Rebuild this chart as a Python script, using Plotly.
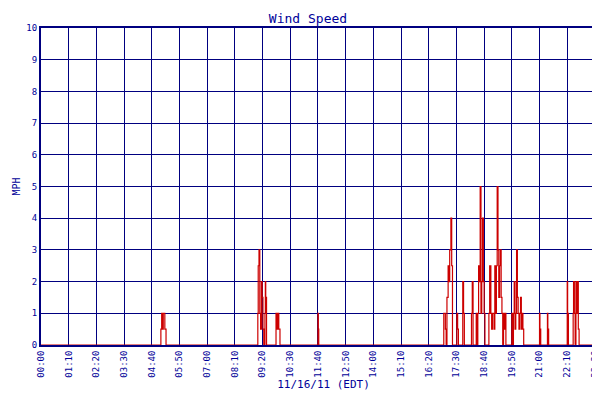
import plotly.graph_objects as go

# minutes since midnight, wind speed (mph); step series
minutes = [0, 300, 303, 305, 307, 309, 311, 313, 316,
           547, 548, 549, 551, 553, 555, 557, 559, 561, 563, 566, 567, 568, 570,
           594, 596, 599, 601, 604,
           700, 701, 702,
           1017, 1018, 1020, 1022, 1024, 1026, 1029, 1031, 1033, 1036, 1038, 1040, 1043,
           1051, 1053, 1055, 1066, 1068, 1070, 1088, 1090, 1092,
           1100, 1102, 1104, 1106, 1108, 1110, 1112, 1114, 1116, 1118, 1120, 1122, 1124,
           1132, 1134, 1135, 1137, 1139, 1141, 1143, 1145, 1147, 1149, 1151, 1153, 1155, 1157,
           1159, 1161, 1163, 1165, 1167, 1169, 1171, 1173, 1175,
           1190, 1192, 1194, 1196, 1198, 1200, 1202, 1204, 1206, 1208, 1210, 1212, 1214, 1216, 1218, 1220,
           1260, 1261, 1263, 1280, 1281, 1283,
           1330, 1331, 1333, 1345, 1346, 1348, 1350, 1352, 1354, 1356, 1358, 1360,
           1405, 1407, 1409, 1411, 1413, 1428]
speeds = [0, 0, 0.5, 1, 0.5, 1, 1, 0.5, 0,
          0, 1, 2.5, 3, 1, 0.5, 2, 1.5, 0.5, 0, 1, 2, 1.5, 0,
          1, 0.5, 1, 0.5, 0,
          1, 0.5, 0,
          0, 1, 1, 0.5, 0, 1.5, 2.5, 2, 3, 4, 2.5, 0, 0,
          1, 0.5, 0, 2, 1, 0, 1, 2, 0,
          1, 0, 1, 2.5, 2, 5, 1, 2, 4, 2, 1, 0, 0,
          1, 2.5, 2.5, 1, 0.5, 1, 1, 0.5, 2.5, 1, 2.5, 5, 3, 1.5,
          2.5, 3, 1.5, 1, 0, 1, 0.5, 1, 0,
          1, 0, 1, 2, 0.5, 1, 3, 1.5, 1, 0.5, 1, 1.5, 0.5, 1, 0.5, 0,
          1, 0.5, 0, 1, 0.5, 0,
          2, 1, 0, 1, 2, 1, 0, 2, 1, 2, 0.5, 0,
          1, 2, 1, 0, 0, 0]

tick_vals = list(range(0, 1421, 70)) + [1428]
tick_text = ["%02d:%02d" % (m // 60, m % 60) for m in tick_vals]

fig = go.Figure(go.Scatter(x=minutes, y=speeds, mode="lines", line_shape="hv",
                           line=dict(color="#cc0000", width=1.2), name="Wind Speed"))
font = "DejaVu Sans Mono"
fig.update_layout(
    width=600, height=400, margin=dict(l=33, r=2, t=20, b=63, autoexpand=False),
    paper_bgcolor="white", plot_bgcolor="white",
    title=dict(text="Wind Speed", x=0.5, y=0.985, yanchor="top",
               font=dict(family=font, size=13, color="#000099")),
    font=dict(family=font, size=9, color="#000099"),
    showlegend=True,
    legend=dict(orientation="h", x=0.5, xanchor="center", y=-0.17, yanchor="top",
                font=dict(size=9, color="#000099")),
    xaxis=dict(range=[0, 1428], tickvals=tick_vals, ticktext=tick_text, tickangle=-90,
               automargin=False,
               showgrid=True, gridcolor="#000080", gridwidth=1, zeroline=False,
               showline=True, linecolor="#000080", linewidth=2, mirror=True,
               title=dict(text="11/16/11 (EDT)", font=dict(size=11, color="#000099"), standoff=2)),
    yaxis=dict(range=[0, 10], dtick=1, showgrid=True, gridcolor="#000080", gridwidth=1,
               automargin=False,
               zeroline=False, showline=True, linecolor="#000080", linewidth=2, mirror=True,
               title=dict(text="MPH", font=dict(size=10, color="#000099"), standoff=4)),
)
fig.write_html("out.html")
